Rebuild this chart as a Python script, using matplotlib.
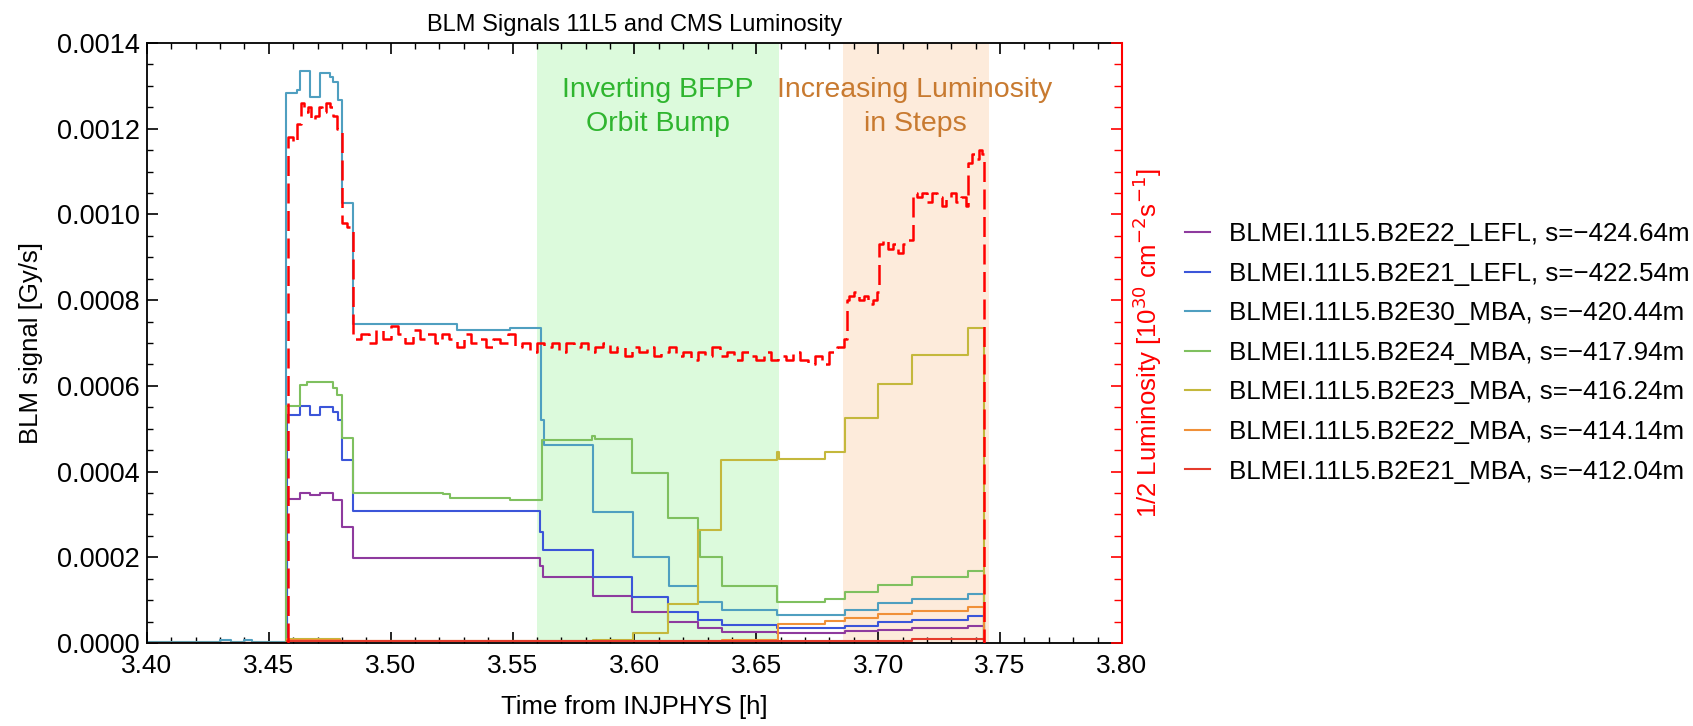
import matplotlib.pyplot as plt
from matplotlib.ticker import MultipleLocator, FormatStrFormatter

plt.rcParams['font.family'] = ['Liberation Sans', 'DejaVu Sans']

# BLM signals [Gy/s], stepwise in time [h]
t_purple = [3.400, 3.4575, 3.4628, 3.4669, 3.4710, 3.4764, 3.4799, 3.4847, 3.5612, 3.5626,
            3.5830, 3.5988, 3.6138, 3.6262, 3.6360, 3.6583, 3.6864, 3.7000, 3.7140, 3.7370, 3.7434]
v_purple = [0.0, 0.000335, 0.000351, 0.000346, 0.000351, 0.000334, 0.000271, 0.000198, 0.000180, 0.000155,
            0.000110, 0.000073, 0.000050, 0.0000342, 0.0000264, 0.0000226, 0.000027, 0.000031, 0.0000352, 0.000040, 0.0]

t_blue = [3.400, 3.4575, 3.4628, 3.4669, 3.4710, 3.4764, 3.4785, 3.4799, 3.4847, 3.5612, 3.5626,
          3.5830, 3.5988, 3.6138, 3.6262, 3.6360, 3.6583, 3.6864, 3.7000, 3.7140, 3.7370, 3.7434]
v_blue = [0.0, 0.000532, 0.000553, 0.000532, 0.000550, 0.000540, 0.000520, 0.000427, 0.000308, 0.000260, 0.000217,
          0.000154, 0.000107, 0.000073, 0.0000537, 0.000042, 0.0000342, 0.000040, 0.000048, 0.0000546, 0.000063, 0.0]

t_teal = [3.400, 3.4300, 3.4345, 3.4400, 3.4430, 3.4572, 3.4614, 3.4628, 3.4669, 3.4710, 3.4751, 3.4764,
          3.4785, 3.4799, 3.4847, 3.5271, 3.5489, 3.5615, 3.5630, 3.5830, 3.5995, 3.6140, 3.6262,
          3.6360, 3.6583, 3.6864, 3.7000, 3.7140, 3.7370, 3.7434]
v_teal = [0.000002, 0.000006, 0.000003, 0.000006, 0.000002, 0.001283, 0.001290, 0.001335, 0.001275, 0.001330,
          0.001320, 0.001310, 0.001267, 0.001027, 0.000745, 0.000730, 0.000735, 0.000520, 0.000462, 0.000306,
          0.000201, 0.000133, 0.0000963, 0.000077, 0.0000653, 0.000077, 0.0000926, 0.000103, 0.000114, 0.0]

t_green = [3.400, 3.4572, 3.4628, 3.4655, 3.4764, 3.4778, 3.4799, 3.4847, 3.5216, 3.5243, 3.5489, 3.5620,
           3.5824, 3.5838, 3.5988, 3.6138, 3.6262, 3.6268, 3.6360, 3.6583, 3.6782, 3.6864, 3.7000,
           3.7140, 3.7370, 3.7434]
v_green = [0.0, 0.000553, 0.000602, 0.000610, 0.000595, 0.000579, 0.000478, 0.000350, 0.000348, 0.000338,
           0.000334, 0.000474, 0.000483, 0.000476, 0.000396, 0.000291, 0.000264, 0.000200, 0.000133,
           0.0000963, 0.000103, 0.000119, 0.000136, 0.000153, 0.000169, 0.0]

t_yellow = [3.400, 3.4575, 3.4790, 3.5830, 3.5995, 3.6138, 3.6262, 3.6357, 3.6583, 3.6595, 3.6782,
            3.6864, 3.7000, 3.7140, 3.7370, 3.7434]
v_yellow = [0.0, 0.000009, 0.000005, 0.000007, 0.0000226, 0.0000918, 0.000264, 0.000427, 0.000446,
            0.000429, 0.000446, 0.000525, 0.000604, 0.000673, 0.000735, 0.0]

t_orange = [3.400, 3.4575, 3.4790, 3.6360, 3.6590, 3.6782, 3.6864, 3.7000, 3.7140, 3.7370, 3.7434]
v_orange = [0.0, 0.000008, 0.000004, 0.0000077, 0.000044, 0.0000506, 0.000058, 0.000068, 0.000075,
            0.000084, 0.0]

t_red = [3.400, 3.4575, 3.7140, 3.7434]
v_red = [0.0, 0.000004, 0.0000085, 0.0]

# half CMS luminosity [10^30 cm^-2 s^-1]
t_lumi = [3.4578, 3.4580, 3.4600, 3.4615, 3.4630, 3.4645, 3.4660, 3.4675, 3.4690, 3.4705, 3.4720,
          3.4735, 3.4750, 3.4765, 3.4780, 3.4800, 3.4820, 3.4847,
          3.488, 3.491, 3.494, 3.497, 3.500, 3.503, 3.506, 3.509, 3.512, 3.515, 3.518, 3.521,
          3.524, 3.527, 3.530, 3.533, 3.536, 3.539, 3.542, 3.545, 3.548, 3.551, 3.554, 3.557,
          3.560, 3.563, 3.566, 3.569, 3.572, 3.575, 3.578, 3.581, 3.584, 3.587, 3.590, 3.593,
          3.596, 3.599, 3.602, 3.605, 3.608, 3.611, 3.614, 3.617, 3.620, 3.623, 3.626, 3.629,
          3.632, 3.635, 3.638, 3.641, 3.644, 3.647, 3.650, 3.653, 3.656, 3.659, 3.662, 3.665,
          3.668, 3.671, 3.674, 3.677, 3.680, 3.683, 3.686,
          3.6872, 3.6880, 3.690, 3.692, 3.694, 3.696, 3.698, 3.6994,
          3.7002, 3.702, 3.704, 3.706, 3.708, 3.710, 3.712,
          3.7142, 3.716, 3.718, 3.720, 3.722, 3.724, 3.726, 3.728, 3.730, 3.732, 3.734, 3.736,
          3.7370, 3.7385, 3.7400, 3.7415, 3.7425, 3.7434]
lumi = [0.0, 1.18, 1.17, 1.21, 1.26, 1.24, 1.25, 1.22, 1.23, 1.25, 1.24,
        1.26, 1.25, 1.23, 1.20, 0.98, 0.97, 0.71,
        0.72, 0.70, 0.73, 0.71, 0.74, 0.72, 0.70, 0.73, 0.71, 0.72, 0.70, 0.72,
        0.71, 0.69, 0.72, 0.70, 0.71, 0.69, 0.71, 0.70, 0.72, 0.69, 0.70, 0.68,
        0.70, 0.69, 0.70, 0.68, 0.70, 0.69, 0.70, 0.68, 0.69, 0.70, 0.68, 0.69,
        0.67, 0.69, 0.68, 0.69, 0.67, 0.68, 0.69, 0.67, 0.68, 0.66, 0.68, 0.67,
        0.69, 0.67, 0.68, 0.66, 0.68, 0.67, 0.66, 0.68, 0.66, 0.67, 0.66, 0.68,
        0.66, 0.65, 0.67, 0.65, 0.68, 0.69, 0.71,
        0.80, 0.81, 0.82, 0.80, 0.81, 0.79, 0.80, 0.82,
        0.93, 0.94, 0.92, 0.93, 0.91, 0.93, 0.94,
        1.05, 1.04, 1.05, 1.03, 1.05, 1.04, 1.02, 1.04, 1.05, 1.03, 1.04, 1.02,
        1.12, 1.14, 1.13, 1.15, 1.14, 0.0]

series = [
    ("BLMEI.11L5.B2E22_LEFL, s=\u2212424.64m", t_purple, v_purple, "#8e3a9e"),
    ("BLMEI.11L5.B2E21_LEFL, s=\u2212422.54m", t_blue, v_blue, "#3b55d9"),
    ("BLMEI.11L5.B2E30_MBA, s=\u2212420.44m", t_teal, v_teal, "#4f9fc0"),
    ("BLMEI.11L5.B2E24_MBA, s=\u2212417.94m", t_green, v_green, "#7fc05f"),
    ("BLMEI.11L5.B2E23_MBA, s=\u2212416.24m", t_yellow, v_yellow, "#c4b83c"),
    ("BLMEI.11L5.B2E22_MBA, s=\u2212414.14m", t_orange, v_orange, "#f09038"),
    ("BLMEI.11L5.B2E21_MBA, s=\u2212412.04m", t_red, v_red, "#e53b2c"),
]

bump_span = (3.5601, 3.6593)
steps_span = (3.6855, 3.7454)


def main():
    fig = plt.figure(figsize=(16.93, 7.26), dpi=100)
    ax = fig.add_axes([0.0868, 0.1143, 0.5759, 0.8264])

    ax.axvspan(*bump_span, color="#dcfadc", lw=0, zorder=0)
    ax.axvspan(*steps_span, color="#fdebdb", lw=0, zorder=0)

    for label, t, v, color in series:
        ax.step(t, v, where="post", color=color, lw=1.5, label=label)

    ax.text(3.6097, 0.00125, "Inverting BFPP\nOrbit Bump", color="#2fb52f", fontsize=20.5,
            ha="center", va="center", linespacing=1.4)
    ax.text(3.7151, 0.00125, "Increasing Luminosity\nin Steps", color="#c87a30", fontsize=20.5,
            ha="center", va="center", linespacing=1.4)

    ax.set_xlim(3.40, 3.80)
    ax.set_ylim(0, 0.0014)
    ax.xaxis.set_major_locator(MultipleLocator(0.05))
    ax.xaxis.set_minor_locator(MultipleLocator(0.01))
    ax.yaxis.set_major_locator(MultipleLocator(0.0002))
    ax.yaxis.set_minor_locator(MultipleLocator(0.00005))
    ax.xaxis.set_major_formatter(FormatStrFormatter("%.2f"))
    ax.yaxis.set_major_formatter(FormatStrFormatter("%.4f"))
    ax.tick_params(which="both", direction="in", top=True, right=False)
    ax.tick_params(axis="x", labelsize=19, pad=8)
    ax.tick_params(axis="y", labelsize=19.5, pad=5)
    ax.tick_params(which="major", length=8, width=1.2)
    ax.tick_params(which="minor", length=4.5, width=1.0)
    ax.spines["right"].set_visible(False)
    for s in ["left", "top", "bottom"]:
        ax.spines[s].set_linewidth(1.3)

    ax.set_xlabel("Time from INJPHYS [h]", fontsize=18.5, labelpad=12)
    ax.set_ylabel("BLM signal [Gy/s]", fontsize=18.5, labelpad=10)
    ax.set_title("BLM Signals 11L5 and CMS Luminosity", fontsize=17, pad=9)

    ax2 = ax.twinx()
    ax2.plot(t_lumi, lumi, drawstyle="steps-post", color="red", lw=1.8, dashes=(8, 3))
    ax2.set_ylim(0, 1.4)
    ax2.yaxis.set_major_locator(MultipleLocator(0.2))
    ax2.yaxis.set_minor_locator(MultipleLocator(0.05))
    ax2.tick_params(which="both", direction="in", colors="red", labelright=False)
    ax2.tick_params(which="major", length=8, width=1.2)
    ax2.tick_params(which="minor", length=6, width=1.0)
    for s in ["left", "top", "bottom"]:
        ax2.spines[s].set_visible(False)
    ax2.spines["right"].set_color("red")
    ax2.spines["right"].set_linewidth(1.5)
    ax2.set_ylabel("1/2 Luminosity [10$^{30}$ cm$^{-2}$s$^{-1}$]", color="red", fontsize=18.5, labelpad=6)

    handles, labels = ax.get_legend_handles_labels()
    fig.legend(handles, labels, loc="center left", bbox_to_anchor=(0.700, 0.514), frameon=False,
               fontsize=18.7, handlelength=0.95, handletextpad=0.75, labelspacing=0.6,
               borderpad=0, borderaxespad=0)

    fig.savefig("out.png", dpi=100)


if __name__ == "__main__":
    main()
